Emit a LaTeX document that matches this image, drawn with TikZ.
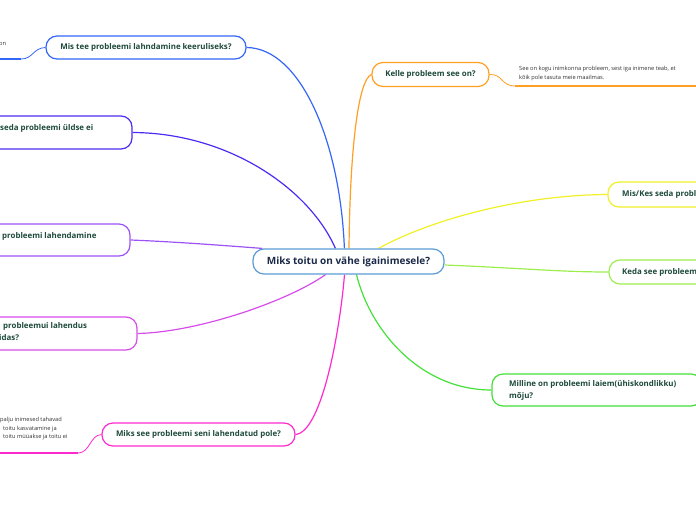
\documentclass[tikz,border=0pt]{standalone}
\usepackage{fontspec}
\setmainfont{Open Sans}
\pgfdeclarelayer{background}
\pgfsetlayers{background,main}
\definecolor{cA}{HTML}{3566F8}
\definecolor{cB}{HTML}{4C2CF2}
\definecolor{cC}{HTML}{9C52F6}
\definecolor{cD}{HTML}{D64CEA}
\definecolor{cE}{HTML}{FF2ACF}
\definecolor{cF}{HTML}{FFA024}
\definecolor{cG}{HTML}{F0F028}
\definecolor{cH}{HTML}{9CEE4E}
\definecolor{cI}{HTML}{44E038}
\definecolor{cC0}{HTML}{5B9BD5}
\definecolor{txt}{HTML}{1D4A3A}
\definecolor{ctxt}{HTML}{1A2A48}
\definecolor{note}{HTML}{333333}
\tikzset{
  box/.style={draw=#1, fill=white, line width=1.2pt, rounded corners=11pt, inner sep=0pt},
  lbl/.style={text=txt, font=\fontsize{7.9}{12}\selectfont\bfseries, inner sep=0pt},
  notetext/.style={text=note, font=\fontsize{5.7}{8.5}\selectfont, inner sep=0pt, align=left},
  conn/.style={draw=#1, line width=1.2pt},
  uline/.style={draw=#1, line width=1.6pt}
}
\begin{document}
\begin{tikzpicture}[x=1pt,y=-1pt]
\useasboundingbox (0,0) rectangle (696,520);
\clip (0,0) rectangle (696,520);
% central
\node[box=cC0, minimum width=191pt, minimum height=25pt, text=ctxt, font=\fontsize{10}{12}\selectfont\bfseries] (c) at (348.5,261.5) {Miks toitu on vähe igainimesele?};
% left side
\node[box=cA, minimum width=200pt, minimum height=23pt, lbl] (n1) at (146,47.5) {Mis tee probleemi lahndamine keeruliseks?};
\node[notetext, anchor=west] (n1note) at (-1,44) {on};
\coordinate (n1u) at (21,59);
\coordinate (n1e) at (0,59);

\node[box=cB, minimum width=252pt, minimum height=33pt] (n2) at (6,132.5) {};
\node[lbl, anchor=west] (n2t) at (0,128) {seda probleemi üldse ei};

\node[box=cC, minimum width=250pt, minimum height=32pt] (n3) at (5,240) {};
\node[lbl, anchor=west] (n3t) at (2,236) {probleemi lahendamine};

\node[box=cD, minimum width=257pt, minimum height=33pt] (n4) at (8.5,333.5) {};
\node[lbl, anchor=north west, align=left] (n4t) at (-1,322) {\kern4pt probleemui lahendus\\idas?};

\node[box=cE, minimum width=193pt, minimum height=23pt, lbl] (n5) at (198.5,434.5) {Miks see probleemi seni lahendatud pole?};
\node[notetext, anchor=north west] (n5note) at (0,417) {palju inimesed tahavad\\\kern3pt toitu kasvatamine ja\\\kern3pt toitu müüakse ja toitu ei};
\coordinate (n5u) at (78,453);
\coordinate (n5e) at (0,453);

% right side
\node[box=cF, minimum width=117pt, minimum height=24pt, lbl] (n6) at (430.5,74.5) {Kelle probleem see on?};
\node[notetext, anchor=north west] (n6note) at (519,66) {See on kogu inimkonna probleem, sest iga inimene teab, et\\kõik pole tasuta meie maailmas.};
\coordinate (n6u) at (515,86);
\coordinate (n6e) at (696,86);

\node[box=cG, minimum width=112pt, minimum height=25pt] (n7) at (664,194.5) {};
\node[lbl, anchor=west] (n7t) at (622,194.5) {Mis/Kes seda probl};

\node[box=cH, minimum width=112pt, minimum height=24pt] (n8) at (665,272) {};
\node[lbl, anchor=west] (n8t) at (622,272) {Keda see probleem};

\node[box=cI, minimum width=210pt, minimum height=32pt] (n9) at (597,390) {};
\node[lbl, anchor=west, align=left] (n9t) at (509,390) {Milline on probleemi laiem(ühiskondlikku)\\mõju?};

\begin{pgfonlayer}{background}
\draw[conn=cA] (n1.east) .. controls (300,48) and (340,140) .. ([xshift=92pt]c.north west);
\draw[conn=cA, line width=0.8pt] (n1.west) .. controls (33,48) and (33,59) .. (n1u);
\draw[uline=cA] (n1u) -- (n1e);

\draw[conn=cB] (n2.east) .. controls (230,133) and (310,190) .. ([xshift=83pt]c.north west);
\draw[conn=cC] (n3.east) .. controls (180,242) and (230,246) .. ([xshift=10pt]c.north west);
\draw[conn=cD] (n4.east) .. controls (200,332) and (290,300) .. ([xshift=-23pt]c.south);
\draw[conn=cE] (n5.east) .. controls (322,432) and (340,330) .. ([xshift=-4pt]c.south);
\draw[conn=cE, line width=0.8pt] (n5.west) .. controls (90,435) and (90,453) .. (n5u);
\draw[uline=cE] (n5u) -- (n5e);

\draw[conn=cF] (n6.west) .. controls (358,80) and (350,150) .. ([xshift=0.5pt]c.north);
\draw[conn=cF, line width=0.8pt] (n6.east) .. controls (503,74) and (501,86) .. (n6u);
\draw[uline=cF] (n6u) -- (n6e);

\draw[conn=cG] (n7.west) .. controls (520,195) and (430,220) .. ([xshift=30pt]c.north);
\draw[conn=cH] ([yshift=-3.5pt]c.east) .. controls (520,268) and (560,272) .. (n8.west);
\draw[conn=cI] (n9.west) .. controls (420,390) and (370,330) .. ([xshift=8pt]c.south);
\end{pgfonlayer}
\end{tikzpicture}
\end{document}
